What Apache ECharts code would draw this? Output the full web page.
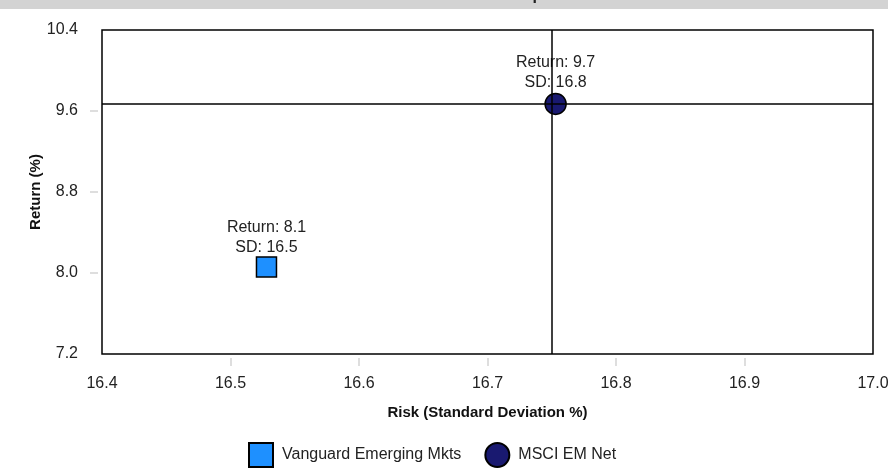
<!DOCTYPE html>
<html>
<head>
<meta charset="utf-8">
<script src="https://cdn.jsdelivr.net/npm/echarts@6/dist/echarts.min.js"></script>
<style>
  html, body { margin: 0; padding: 0; background: #fff; }
  #chart { width: 888px; height: 470px; }
</style>
</head>
<body>
<div id="chart"></div>
<script>
// Risk / return points (standard deviation %, return %)
const seriesNames = ['Vanguard Emerging Mkts', 'MSCI EM Net'];
const riskValues = [16.528, 16.753];
const returnValues = [8.06, 9.67];

// Axis ranges and tick steps
const xTicks = { min: 16.4, max: 17.0, step: 0.1 };
const yTicks = { min: 7.2, max: 10.4, step: 0.8 };

const FONT = '"Liberation Sans", Arial, Helvetica, sans-serif';
const benchIdx = 1;

function pointLabel(i) {
  return 'Return: ' + returnValues[i].toFixed(1) + '\nSD: ' + riskValues[i].toFixed(1);
}

// tick marks only between the ends of each axis
function innerTicks(t) {
  const out = [];
  const n = Math.round((t.max - t.min) / t.step);
  for (let i = 1; i < n; i++) out.push(+(t.min + i * t.step).toFixed(4));
  return out;
}

const tickStyle = { color: '#d4d4d4', width: 1.5, type: [0, 4, 8, 40] };

const chart = echarts.init(document.getElementById('chart'), null, { renderer: 'canvas' });

chart.setOption({
  animation: false,
  backgroundColor: '#ffffff',
  textStyle: { fontFamily: FONT },
  graphic: [{
    type: 'rect', left: 0, top: 0, z: -1,
    shape: { width: 888, height: 9 },
    style: { fill: '#d3d3d3' }
  }],
  title: {
    text: 'Risk and Return - Since Inception',
    left: 'center', top: -17,
    textStyle: { fontFamily: FONT, fontSize: 16, fontWeight: 'bold', color: '#222' }
  },
  grid: {
    left: 102, right: 15, top: 30, bottom: 116,
    outerBoundsMode: 'none',
    show: true, borderColor: '#000', borderWidth: 1.5, backgroundColor: 'transparent'
  },
  xAxis: {
    type: 'value',
    min: xTicks.min, max: xTicks.max, interval: xTicks.step,
    name: 'Risk (Standard Deviation %)',
    nameLocation: 'middle', nameGap: 51, nameMoveOverlap: false,
    nameTextStyle: { fontFamily: FONT, fontSize: 15, fontWeight: 'bold', color: '#111' },
    axisLine: { show: false },
    axisTick: { show: true, length: 12, customValues: innerTicks(xTicks), lineStyle: tickStyle },
    axisLabel: { fontFamily: FONT, fontSize: 16, color: '#222', margin: 22,
      formatter: v => v.toFixed(1) },
    splitLine: { show: false }
  },
  yAxis: {
    type: 'value',
    min: yTicks.min, max: yTicks.max, interval: yTicks.step,
    name: 'Return (%)',
    nameLocation: 'middle', nameGap: 59, nameMoveOverlap: false,
    nameTextStyle: { fontFamily: FONT, fontSize: 15, fontWeight: 'bold', color: '#111' },
    axisLine: { show: false },
    axisTick: { show: true, length: 12, customValues: innerTicks(yTicks), lineStyle: tickStyle },
    axisLabel: { fontFamily: FONT, fontSize: 16, color: '#222', margin: 24,
      formatter: v => v.toFixed(1) },
    splitLine: { show: false }
  },
  legend: {
    top: 437, left: 243,
    itemWidth: 24, itemHeight: 24, itemGap: 23,
    data: seriesNames,
    textStyle: { fontFamily: FONT, fontSize: 16, color: '#222', padding: [0, 0, 0, 4] }
  },
  series: [
    {
      name: seriesNames[0],
      type: 'scatter',
      symbol: 'rect', symbolSize: 20, z: 3,
      itemStyle: { color: '#1e90ff', borderColor: '#000', borderWidth: 1.5, opacity: 1 },
      label: {
        show: true, position: 'top', distance: -1,
        fontFamily: FONT, fontSize: 16, color: '#222', lineHeight: 20,
        formatter: () => pointLabel(0)
      },
      data: [[riskValues[0], returnValues[0]]]
    },
    {
      name: seriesNames[1],
      type: 'scatter',
      symbol: 'circle', symbolSize: 21, z: 3,
      itemStyle: { color: '#191970', borderColor: '#000', borderWidth: 1.5, opacity: 1 },
      label: {
        show: true, position: 'top', distance: 0,
        fontFamily: FONT, fontSize: 16, color: '#222', lineHeight: 20,
        formatter: () => pointLabel(1)
      },
      data: [[riskValues[1], returnValues[1]]]
    },
    {
      // benchmark crosshair, drawn above the markers
      name: 'crosshair',
      type: 'scatter', z: 5, silent: true,
      data: [],
      markLine: {
        silent: true, symbol: 'none', animation: false,
        label: { show: false },
        lineStyle: { color: '#000', width: 1.5, type: 'solid' },
        emphasis: { disabled: true },
        data: [
          { xAxis: riskValues[benchIdx] },
          { yAxis: returnValues[benchIdx] }
        ]
      }
    }
  ]
});
</script>
</body>
</html>
